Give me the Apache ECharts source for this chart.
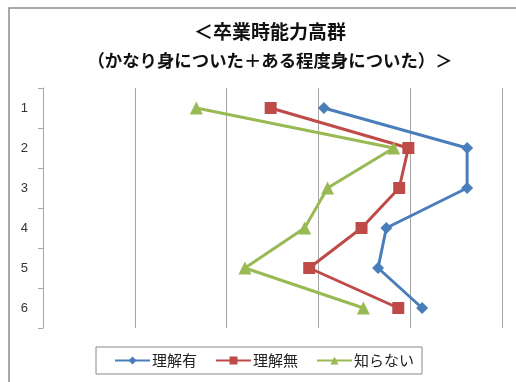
<!DOCTYPE html>
<html><head><meta charset="utf-8">
<script src="https://cdn.jsdelivr.net/npm/echarts@6/dist/echarts.min.js"></script>
<style>html,body{margin:0;padding:0;background:#fff}#c{width:516px;height:382px}</style>
</head><body><div id="c"></div>
<script>
const categories = ['1','2','3','4','5','6'];
const seriesNames = ['理解有','理解無','知らない'];
const rikaiAri = [3.06, 4.62, 4.62, 3.74, 3.65, 4.13];
const rikaiNashi = [2.48, 3.98, 3.88, 3.47, 2.90, 3.87];
const shiranai = [1.67, 3.82, 3.10, 2.85, 2.20, 3.49];
const titleLine1 = '＜卒業時能力高群';
const titleLine2 = '（かなり身についた＋ある程度身についた）＞';

const colors = ['#4A7EBB', '#BE4B48', '#98B954'];
const symbols = ['diamond', 'rect', 'triangle'];
const symbolSizes = [12, 12, 13];
const dataSets = [rikaiAri, rikaiNashi, shiranai];
const jp = '"Noto Sans CJK JP", sans-serif';

const chart = echarts.init(document.getElementById('c'));
chart.setOption({
  animation: false,
  graphic: [{
    type: 'rect', shape: {x: 9, y: 8, width: 600, height: 500},
    style: {fill: 'none', stroke: '#8c8c8c', lineWidth: 1.5}, silent: true, z: -1
  }],
  title: {
    text: '{a|' + titleLine1 + '}\n{b|' + titleLine2 + '}',
    left: 265, top: 13, textAlign: 'center',
    textStyle: {
      fontFamily: jp, fontWeight: 'bold', color: '#111',
      rich: {
        a: {fontFamily: jp, fontSize: 19, fontWeight: 'bold', color: '#111', lineHeight: 28, align: 'center'},
        b: {fontFamily: jp, fontSize: 17.4, fontWeight: 'bold', color: '#111', lineHeight: 28, align: 'center'}
      }
    }
  },
  legend: {
    data: seriesNames,
    left: 96, top: 347,
    padding: [6, 8, 6, 18],
    itemGap: 18,
    itemWidth: 35, itemHeight: 10,
    borderColor: '#888', borderWidth: 1, borderRadius: 0,
    textStyle: {fontFamily: jp, fontSize: 15, color: '#222', padding: [0, 0, 0, -3]}
  },
  grid: {left: 43, right: 14, top: 88, bottom: 54, containLabel: false},
  xAxis: {
    type: 'value', min: 0, max: 5, interval: 1,
    axisLabel: {show: false}, axisLine: {show: false}, axisTick: {show: false},
    splitLine: {show: true, lineStyle: {color: '#A6A6A6', width: 1}}
  },
  yAxis: {
    type: 'category', data: categories, inverse: true, boundaryGap: true,
    axisLine: {show: true, lineStyle: {color: '#A6A6A6', width: 1}},
    axisTick: {show: true, length: 5, lineStyle: {color: '#A6A6A6'}},
    axisLabel: {margin: 15, fontFamily: '"Liberation Sans", sans-serif', fontSize: 13, color: '#333'},
    splitLine: {show: false}
  },
  series: dataSets.map((d, i) => ({
    name: seriesNames[i], type: 'line', data: d,
    color: colors[i], symbol: symbols[i], symbolSize: symbolSizes[i],
    lineStyle: {width: 3, color: colors[i]},
    itemStyle: {color: colors[i]}
  }))
});
</script></body></html>
